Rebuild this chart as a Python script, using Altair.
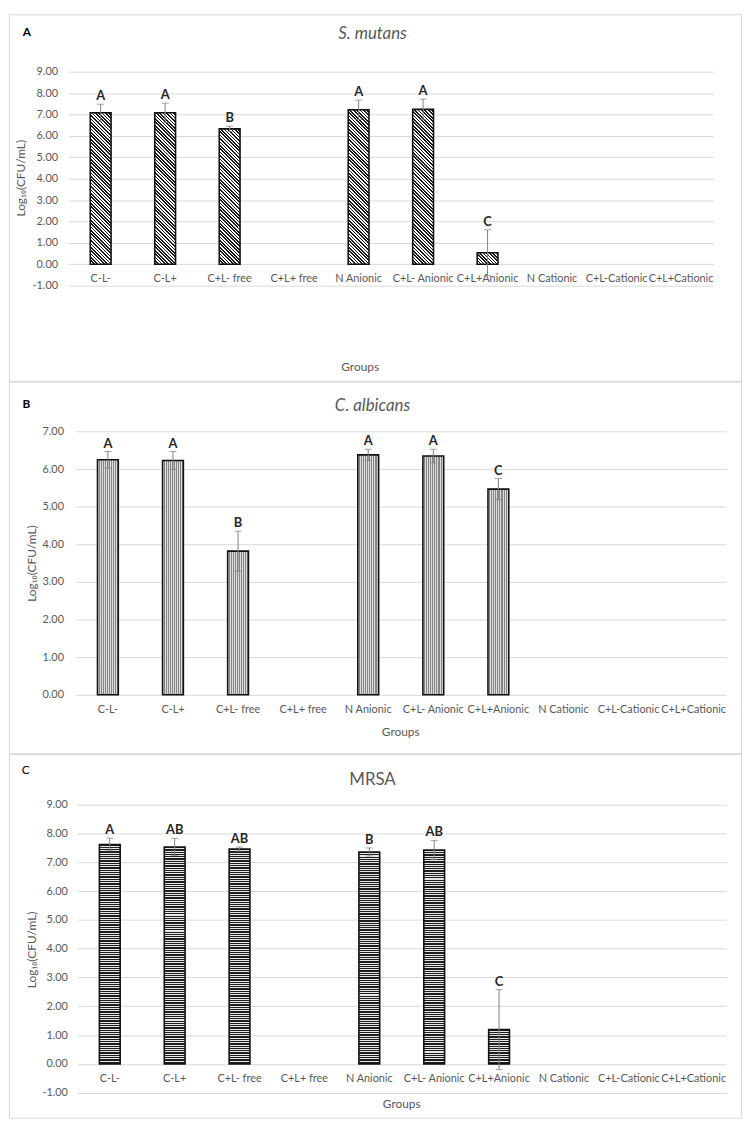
import altair as alt
import pandas as pd

FONT = "Lato"
GRAY = "#595959"

categories = ["C-L-", "C-L+", "C+L- free", "C+L+ free", "N Anionic",
              "C+L- Anionic", "C+L+Anionic", "N Cationic", "C+L-Cationic", "C+L+Cationic"]

# Panel A: S. mutans
smutans_mean = [7.08, 7.08, 6.33, None, 7.22, 7.24, 0.54, None, None, None]
smutans_err = [0.40, 0.45, 0.13, None, 0.45, 0.48, 1.07, None, None, None]
smutans_letter = ["A", "A", "B", None, "A", "A", "C", None, None, None]

# Panel B: C. albicans
calb_mean = [6.25, 6.23, 3.82, None, 6.38, 6.35, 5.47, None, None, None]
calb_err = [0.22, 0.24, 0.53, None, 0.15, 0.18, 0.28, None, None, None]
calb_letter = ["A", "A", "B", None, "A", "A", "C", None, None, None]

# Panel C: MRSA
mrsa_mean = [7.62, 7.53, 7.46, None, 7.36, 7.43, 1.19, None, None, None]
mrsa_err = [0.22, 0.30, 0.07, None, 0.14, 0.33, 1.39, None, None, None]
mrsa_letter = ["A", "AB", "AB", None, "B", "AB", "C", None, None, None]

BAR_W = 21


def diag_grad(h_px, w=BAR_W, q=3.4, dark="#1a1a1a", light="#ffffff"):
    h = max(h_px, 1.0)
    L = (w * w + h * h) / (w + h)
    x2 = w / L
    y2 = 1 - h / L
    n = max(1, round((w + h) / q))
    stops = []
    for k in range(n):
        a, b, c = k / n, (k + 0.5) / n, (k + 1) / n
        stops += [{"offset": round(a, 5), "color": dark}, {"offset": round(b, 5), "color": dark},
                  {"offset": round(b, 5), "color": light}, {"offset": round(c, 5), "color": light}]
    return {"gradient": "linear", "x1": 0, "y1": 1, "x2": round(x2, 5),
            "y2": round(y2, 5) if abs(y2) > 1e-6 else 0.000001, "stops": stops}


def vstripe_grad(h_px, w=BAR_W, n=10, dark="#858585", light="#dcdcdc"):
    stops = []
    for k in range(n):
        a, b, c = k / n, (k + 0.5) / n, (k + 1) / n
        stops += [{"offset": round(a, 5), "color": light}, {"offset": round(b, 5), "color": light},
                  {"offset": round(b, 5), "color": dark}, {"offset": round(c, 5), "color": dark}]
    return {"gradient": "linear", "x1": 0.000001, "y1": 0.000001, "x2": 1, "y2": 0.000001, "stops": stops}


def hstripe_grad(h_px, period=2.3, dark="#1f1f1f", light="#e6e6e6"):
    n = max(1, round(h_px / period))
    stops = []
    for k in range(n):
        a, b, c = k / n, (k + 0.55) / n, (k + 1) / n
        stops += [{"offset": round(a, 5), "color": dark}, {"offset": round(b, 5), "color": dark},
                  {"offset": round(b, 5), "color": light}, {"offset": round(c, 5), "color": light}]
    return {"gradient": "linear", "x1": 1, "y1": 0.000001, "x2": 1, "y2": 1, "stops": stops}


panels = [
    dict(mean=smutans_mean, err=smutans_err, letter=smutans_letter, grad=diag_grad,
         h=370, x_range=[60, 711], y_dom=[-1, 9], y_range=[274, 58], y_vals=list(range(-1, 10)),
         ylab_pad=11, ytitle=(-48, 165), xtitle=(354, 103), label_pad=8,
         title="S. mutans", title_style="italic", title_pos=(367, 25),
         tag="A", tag_weight="bold", tag_pos=(18, 18)),
    dict(mean=calb_mean, err=calb_err, letter=calb_letter, grad=vstripe_grad,
         h=375, x_range=[67, 724], y_dom=[0, 7], y_range=[316, 50.3], y_vals=list(range(0, 8)),
         ylab_pad=12, ytitle=(-44, 183), xtitle=(395, 37), label_pad=9,
         title="C. albicans", title_style="italic", title_pos=(367, 30),
         tag="B", tag_weight="bold", tag_pos=(17.5, 22.5)),
    dict(mean=mrsa_mean, err=mrsa_err, letter=mrsa_letter, grad=hstripe_grad,
         h=367, x_range=[69, 724], y_dom=[-1, 9], y_range=[341.7, 51], y_vals=list(range(-1, 10)),
         ylab_pad=10, ytitle=(-46, 197), xtitle=(396, 40.5), label_pad=9,
         title="MRSA", title_style="normal", title_pos=(367, 31),
         tag="C", tag_weight="normal", tag_pos=(17, 16)),
]


def make_panel(p):
    y0, y1 = p["y_range"]
    d0, d1 = p["y_dom"]
    ppu = (y0 - y1) / (d1 - d0)
    zero_px = y0 - (0 - d0) * ppu
    rows = []
    for c, m, e, l in zip(categories, p["mean"], p["err"], p["letter"]):
        if m is None:
            continue
        rows.append(dict(cat=c, mean=m, lo=m - e, hi=m + e, letter=l, grad=p["grad"](m * ppu)))
    df = pd.DataFrame(rows)

    xs = alt.Scale(domain=categories, range=p["x_range"], paddingInner=0, paddingOuter=0)
    ys = alt.Scale(domain=p["y_dom"], range=p["y_range"], nice=False, zero=False)
    xax = alt.Axis(title="Groups", orient="bottom", offset=zero_px - p["h"], domain=False, ticks=False,
                   grid=False, labelAngle=0, labelPadding=p["label_pad"], labelFontSize=11,
                   labelColor=GRAY, labelFont=FONT, labelOverlap=False, labelLimit=200,
                   titleX=p["xtitle"][0], titleY=p["xtitle"][1], titleFontSize=12,
                   titleFontWeight="normal", titleColor=GRAY, titleFont=FONT,
                   titleAlign="center", titleBaseline="middle")
    yax = alt.Axis(title="Log₁₀(CFU/mL)", values=p["y_vals"],
                   labelExpr="replace(format(datum.value, '.2f'), '\u2212', '-')",
                   offset=-p["x_range"][0], domain=False, ticks=False, tickSize=0,
                   labelPadding=p["ylab_pad"], labelFontSize=11, labelColor=GRAY, labelFont=FONT,
                   grid=True, gridColor="#d9d9d9", gridWidth=1,
                   titleX=p["ytitle"][0], titleY=p["ytitle"][1], titleAngle=270,
                   titleAlign="center", titleBaseline="middle", titleFontSize=12,
                   titleFontWeight="normal", titleColor=GRAY, titleFont=FONT)
    X = alt.X("cat:N", scale=xs, axis=xax, sort=categories)
    base = alt.Chart(df)
    bars = base.mark_bar(width=BAR_W, stroke="#111111", strokeWidth=1.6).encode(
        x=X,
        y=alt.Y("mean:Q", scale=ys, axis=yax),
        y2=alt.datum(0),
        fill=alt.Fill("grad:N", scale=None, legend=None),
    )
    rule = base.mark_rule(color="#7f7f7f", strokeWidth=1).encode(
        x=X, y=alt.Y("lo:Q", scale=ys, axis=yax), y2="hi:Q")
    cap_hi = base.mark_tick(color="#7f7f7f", size=7, thickness=1).encode(
        x=X, y=alt.Y("hi:Q", scale=ys, axis=yax))
    cap_lo = base.mark_tick(color="#7f7f7f", size=7, thickness=1).encode(
        x=X, y=alt.Y("lo:Q", scale=ys, axis=yax))
    letters = base.mark_text(baseline="bottom", dy=-1, fontSize=13, fontWeight="bold",
                             color="#262626", font=FONT).encode(
        x=X, y=alt.Y("hi:Q", scale=ys, axis=yax), text="letter:N")
    title = alt.Chart(pd.DataFrame({"t": [p["title"]]})).mark_text(
        align="center", baseline="alphabetic", fontSize=17, fontStyle=p["title_style"],
        color=GRAY, font=FONT).encode(
        x=alt.value(p["title_pos"][0]), y=alt.value(p["title_pos"][1]), text="t:N")
    tag = alt.Chart(pd.DataFrame({"t": [p["tag"]]})).mark_text(
        align="center", baseline="middle", fontSize=12, fontWeight=p["tag_weight"],
        color="#000000", font=FONT).encode(
        x=alt.value(p["tag_pos"][0]), y=alt.value(p["tag_pos"][1]), text="t:N")
    return alt.layer(bars, rule, cap_hi, cap_lo, letters, title, tag).properties(
        width=739, height=p["h"])


chart = alt.vconcat(*[make_panel(p) for p in panels], spacing=1, bounds="flush").resolve_scale(
    x="independent", y="independent").properties(padding=0).configure(
    font=FONT, background="white").configure_view(stroke="#d9d9d9", strokeWidth=1)

chart.save("out.html", embed_options={"renderer": "svg", "actions": False})
